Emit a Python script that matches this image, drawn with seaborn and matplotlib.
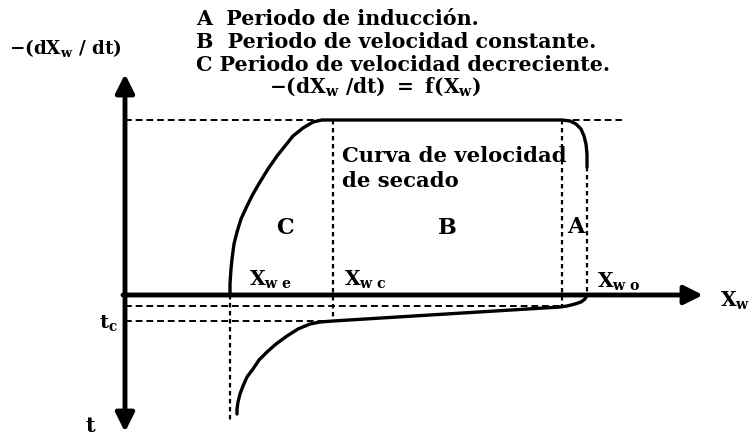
import matplotlib
matplotlib.use("Agg")
import matplotlib.pyplot as plt
import seaborn as sns
import pandas as pd

# ---- data (schematic units: x = moisture Xw, y>0 drying rate, y<0 time) ----
rate_x = [105, 105, 106, 107, 109, 112, 116, 122, 128, 135, 143, 152, 160, 168, 178, 188, 197, 208,
          437, 445, 451, 456, 459, 461, 462, 462]
rate_y = [0, 11, 26, 36, 51, 63, 76, 89, 101, 113, 126, 139, 149, 159, 167, 173, 175, 175,
          175, 174, 171, 166, 159, 151, 141, 128]
time_x = [462, 460, 456, 450, 442, 435, 305, 208, 195, 185, 173, 162, 151, 142, 134, 128, 122, 118,
          115, 113, 112, 112]
time_y = [0, -4, -7, -9, -11, -12, -20, -26, -27, -29, -34, -41, -49, -57, -65, -74, -82, -91,
          -99, -107, -114, -119]
Xwe, Xwc, XA, Xwo = 105, 208, 437, 462
rate_const = 175
t1, tc = -11, -26

legend_lines = ["A  Periodo de inducción.",
                "B  Periodo de velocidad constante.",
                "C Periodo de velocidad decreciente."]

sns.set_theme(style="white")
plt.rcParams["font.family"] = ["DejaVu Serif"]
plt.rcParams["font.weight"] = "bold"
plt.rcParams["text.color"] = "black"
plt.rcParams["mathtext.fontset"] = "custom"
plt.rcParams["mathtext.rm"] = "DejaVu Serif:bold"
plt.rcParams["mathtext.it"] = "DejaVu Serif:bold"
plt.rcParams["mathtext.bf"] = "DejaVu Serif:bold"

fig = plt.figure(figsize=(7.54, 4.35), dpi=100)
ax = fig.add_axes([0, 0, 1, 1])
ax.set_xlim(-125, 629)
ax.set_ylim(-139, 296)
ax.axis("off")

# axes arrows
ax.annotate("", xy=(578, 0), xytext=(-2, 0),
            arrowprops=dict(arrowstyle="-|>", lw=3.5, color="black", mutation_scale=28,
                            shrinkA=0, shrinkB=0))
ax.annotate("", xy=(0, 221), xytext=(0, -137),
            arrowprops=dict(arrowstyle="<|-|>", lw=3.5, color="black", mutation_scale=28,
                            shrinkA=0, shrinkB=0))

# curves
df_r = pd.DataFrame({"x": rate_x, "y": rate_y})
df_t = pd.DataFrame({"x": time_x, "y": time_y})
sns.lineplot(data=df_r, x="x", y="y", sort=False, estimator=None, color="black", lw=2.4, ax=ax)
sns.lineplot(data=df_t, x="x", y="y", sort=False, estimator=None, color="black", lw=2.4, ax=ax)

dash = dict(color="black", lw=1.4, linestyle=(0, (3.5, 2)))
dot = dict(color="black", lw=1.6, linestyle=(0, (2, 1.6)))
# horizontals
ax.plot([0, Xwc], [rate_const, rate_const], **dash)
ax.plot([XA, 497], [rate_const, rate_const], **dash)
ax.plot([0, XA], [t1, t1], **dash)
ax.plot([0, Xwc], [tc, tc], **dash)
# verticals
ax.plot([Xwc, Xwc], [rate_const, tc], **dot)
ax.plot([Xwe, Xwe], [0, -127], **dot)
ax.plot([XA, XA], [rate_const, t1], **dot)
ax.plot([Xwo, Xwo], [128, 0], **dot)


def txt(x, y, s, size, **kw):
    ax.text(x, y, s, fontsize=size, fontweight="bold", color="black", va="center", **kw)

# header
for i, s in enumerate(legend_lines):
    txt(71, 277 - i * 23, s, 14.9, ha="left")
txt(250, 209, r"$\mathrm{-(dX_{w}\ /dt)\ =\ f(X_{w})}$", 14.5, ha="center")
txt(-60, 248, r"$\mathrm{-(dX_{w}\ /\ dt)}$", 13.2, ha="center")

txt(217, 140, "Curva de velocidad", 15.2, ha="left")
txt(217, 115, "de secado", 15.2, ha="left")
txt(160, 68, "C", 16, ha="center")
txt(322, 68, "B", 16, ha="center")
txt(451, 69, "A", 16, ha="center")

txt(124, 16, r"$\mathrm{X_{w\ e}}$", 14.5, ha="left")
txt(219, 16, r"$\mathrm{X_{w\ c}}$", 14.5, ha="left")
txt(472, 14, r"$\mathrm{X_{w\ o}}$", 14.5, ha="left")
txt(595, -5, r"$\mathrm{X_{w}}$", 14.5, ha="left")
txt(-17, -27, r"$\mathrm{t_{c}}$", 14, ha="center")
txt(-35, -130, "t", 15, ha="center")

fig.savefig("out.png", dpi=100, facecolor="white")
